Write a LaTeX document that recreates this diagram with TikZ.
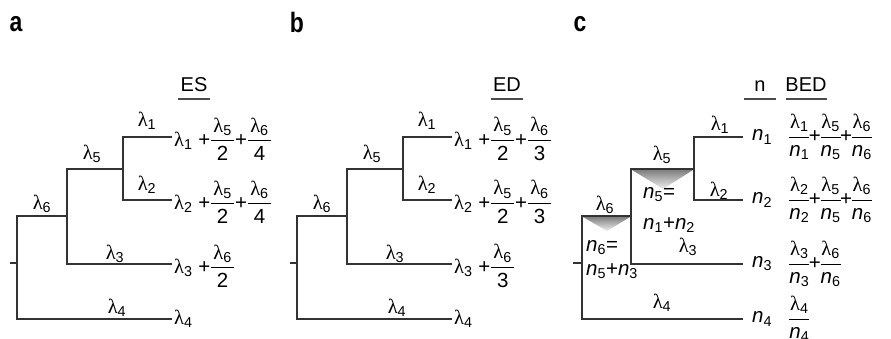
\documentclass[tikz,border=0pt]{standalone}
\usepackage{amsmath}
\usepackage{fontspec}
\setmainfont{Liberation Sans}
\newfontfamily\lamf{Liberation Serif}
\newfontfamily\panelf[FakeStretch=0.82]{Liberation Sans}
\newcommand\lm[1]{{\lamf λ}\textsubscript{#1}}
\newcommand\nn[1]{\textit{n}\textsubscript{#1}}
\newcommand\fr[2]{\ensuremath{\genfrac{}{}{1pt}{0}{\text{\kern2pt#1\kern2pt}}{\text{#2}}}}
\newcommand\frc[2]{\ensuremath{\genfrac{}{}{1pt}{0}{\text{#1}}{\text{#2}}}}
\newcommand\pl{\kern-1.5pt+\kern-1.5pt}
\newcommand\skel[1]{%
  \coordinate (#1R) at (17,263);
  \coordinate (#1N5) at (67,216);
  \coordinate (#1N12) at (123,169);
  \coordinate (#1e1) at (172,137);
  \coordinate (#1e2) at (172,200);
  \coordinate (#1e3) at (172,264);
  \coordinate (#1e4) at (172,319);
  \draw[br] (#1R) ++(-7,0) coordinate (#1S) -- (#1R);
  \draw[br] (#1e4) -| (#1R) |- (#1N5);
  \draw[br] (#1e3) -| (#1N5) |- (#1N12);
  \draw[br] (#1e2) -| (#1N12) |- (#1e1);
  \node[lbl] (#1l1) at (147,121) {\lm1};
  \node[lbl] (#1l2) at (147,185) {\lm2};
  \node[lbl] (#1l5) at (92,154) {\lm5};
  \node[lbl] (#1l6) at (42,204) {\lm6};
  \node[lbl] (#1l3) at (115,254) {\lm3};
  \node[lbl] (#1l4) at (117,308) {\lm4};
}
\begin{document}
\begin{tikzpicture}[x=1pt,y=-1pt,
  br/.style={line width=1.3pt, draw=black!80},
  lbl/.style={font=\fontsize{20.5}{24}\selectfont, inner sep=0pt},
  tip/.style={font=\fontsize{20.5}{24}\selectfont, inner sep=0pt, anchor=west},
  hdr/.style={font=\fontsize{20}{22}\selectfont, inner sep=0pt},
  uline/.style={line width=1.5pt, draw=black!70},
  panel/.style={font=\fontsize{28}{30}\panelf\bfseries, inner sep=0pt}]
\useasboundingbox (0,0) rectangle (891,339);
% panel letters
\node[panel] (pa) at (16,24) {a};
\node[panel] (pb) at (297,22) {b};
\node[panel] (pc) at (580,24) {c};
% headers
\node[hdr] (hES) at (194,85) {ES};
\draw[uline] (178,99) coordinate (u1a) -- (210,99) coordinate (u1b);
\node[hdr] (hED) at (507,85) {ED};
\draw[uline] (491,99) coordinate (u2a) -- (523,99) coordinate (u2b);
\node[hdr] (hn) at (760,86) {n};
\draw[uline] (744,99) coordinate (u3a) -- (776,99) coordinate (u3b);
\node[hdr] (hBED) at (806,85) {BED};
\draw[uline] (786,99) coordinate (u4a) -- (827,99) coordinate (u4b);
% panel a
\skel{a}
\node[tip] (at1) at ([xshift=2pt,yshift=-2pt]ae1) {\lm1 +\fr{\lm5}{2}+\fr{\lm6}{4}};
\node[tip] (at2) at ([xshift=2pt,yshift=-2pt]ae2) {\lm2 +\fr{\lm5}{2}+\fr{\lm6}{4}};
\node[tip] (at3) at ([xshift=2pt,yshift=-2pt]ae3) {\lm3 +\fr{\lm6}{2}};
\node[tip] (at4) at ([xshift=2pt]ae4) {\lm4};
% panel b
\begin{scope}[xshift=280pt]
\skel{b}
\end{scope}
\node[tip] (bt1) at ([xshift=2pt,yshift=-2pt]be1) {\lm1 +\fr{\lm5}{2}+\fr{\lm6}{3}};
\node[tip] (bt2) at ([xshift=2pt,yshift=-2pt]be2) {\lm2 +\fr{\lm5}{2}+\fr{\lm6}{3}};
\node[tip] (bt3) at ([xshift=2pt,yshift=-2pt]be3) {\lm3 +\fr{\lm6}{3}};
\node[tip] (bt4) at ([xshift=2pt]be4) {\lm4};
% panel c
\coordinate (cR) at (582,263);
\coordinate (cN5) at (631,216);
\coordinate (cN12) at (694,169);
\coordinate (ce1) at (743,137);
\coordinate (ce2) at (743,200);
\coordinate (ce3) at (743,264);
\coordinate (ce4) at (743,319);
\shade[top color=black!50, bottom color=black!6] (583,217) -- (630,217) -- (607,231) -- cycle;
\shade[top color=black!50, bottom color=black!6] (632,170) -- (693,170) -- (663,189) -- cycle;
\draw[br] (cR) ++(-9,0) coordinate (cS) -- (cR);
\draw[br] (ce4) -| (cR) |- (cN5);
\draw[br] (ce3) -| (cN5) |- (cN12);
\draw[br] (ce2) -| (cN12) |- (ce1);
\node[lbl] (cl1) at (720,125) {\lm1};
\node[lbl] (cl2) at (719,191) {\lm2};
\node[lbl] (cl5) at (662,155) {\lm5};
\node[lbl] (cl6) at (605,205) {\lm6};
\node[lbl] (cl3) at (688,247) {\lm3};
\node[lbl] (cl4) at (662,303) {\lm4};
\node[tip] (cn5a) at (643,195) {\nn5=};
\node[tip] (cn5b) at (643,225) {\nn1+\nn2};
\node[tip] (cn6a) at (586,248) {\nn6=};
\node[tip] (cn6b) at (586,271) {\nn5+\nn3};
\node[tip] (cn1) at (752,137) {\nn1};
\node[tip] (cn2) at (752,200) {\nn2};
\node[tip] (cn3) at (752,264) {\nn3};
\node[tip] (cn4) at (752,319) {\nn4};
\node[tip] (ct1) at (788,137) {\frc{\lm1}{\nn1}\pl\frc{\lm5}{\nn5}\pl\frc{\lm6}{\nn6}};
\node[tip] (ct2) at (788,200) {\frc{\lm2}{\nn2}\pl\frc{\lm5}{\nn5}\pl\frc{\lm6}{\nn6}};
\node[tip] (ct3) at (788,264) {\frc{\lm3}{\nn3}\pl\frc{\lm6}{\nn6}};
\node[tip] (ct4) at (788,319) {\frc{\lm4}{\nn4}};
\end{tikzpicture}
\end{document}
